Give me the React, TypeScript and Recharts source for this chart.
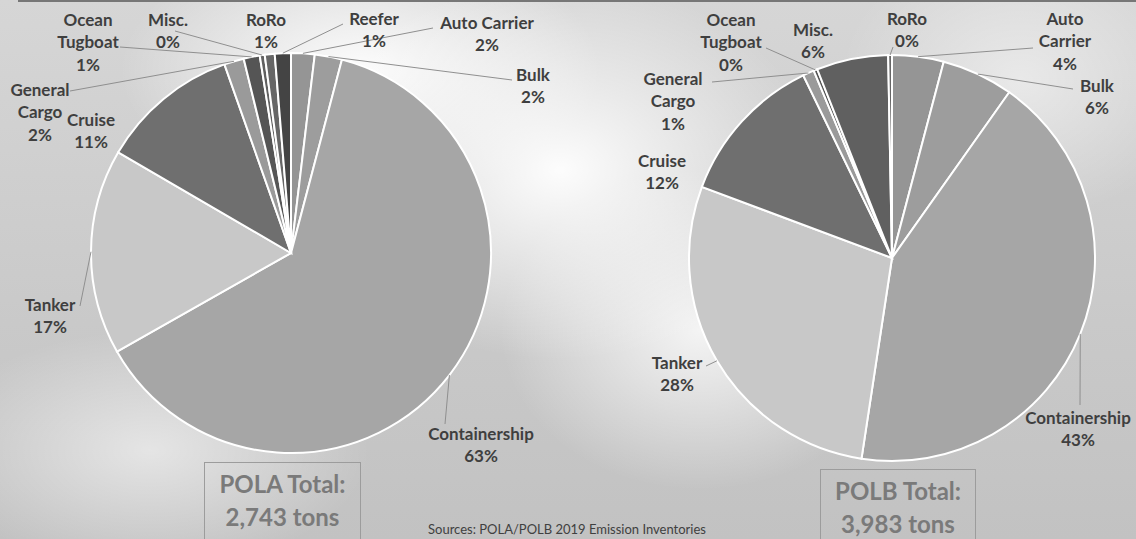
import React from 'react';
import { PieChart, Pie, Cell } from 'recharts';

// shares of total tons per vessel type
const categories = ['Auto Carrier', 'Bulk', 'Containership', 'Tanker', 'Cruise', 'General Cargo', 'Ocean Tugboat', 'Misc.', 'RoRo', 'Reefer'];
const polaShares = [1.9, 2.2, 62.7, 16.6, 11.2, 1.6, 1.3, 0.4, 0.8, 1.3];
const polbShares = [4.1, 5.7, 42.6, 28.3, 12.1, 0.9, 0.3, 5.7, 0.3, 0];
const sliceColors = ['#959595', '#9d9d9d', '#a6a6a6', '#c8c8c8', '#6f6f6f', '#9a9a9a', '#555555', '#606060', '#666666', '#444444'];

const totals = ['POLA Total:', '2,743 tons', 'POLB Total:', '3,983 tons'];
const sourceNote = 'Sources: POLA/POLB 2019 Emission Inventories';

type LabelPos = { x: number; y: number; wrap?: boolean; lx?: number; ly?: number };

// hand-placed data labels (text centre, first line) and leader start points
const polaLabels: Record<string, LabelPos> = {
  'Auto Carrier': { x: 487, y: 22, lx: 433, ly: 28 },
  Bulk: { x: 533, y: 74, lx: 512, ly: 80 },
  Containership: { x: 481, y: 433, lx: 445, ly: 424 },
  Tanker: { x: 50, y: 304, lx: 80, ly: 306 },
  Cruise: { x: 91, y: 119 },
  'General Cargo': { x: 40, y: 89, wrap: true, lx: 70, ly: 91 },
  'Ocean Tugboat': { x: 88, y: 19, wrap: true, lx: 120, ly: 47 },
  'Misc.': { x: 168, y: 19, lx: 175, ly: 31 },
  RoRo: { x: 266, y: 19 },
  Reefer: { x: 374, y: 18, lx: 343, ly: 24 },
};

const polbLabels: Record<string, LabelPos> = {
  'Auto Carrier': { x: 1065, y: 18, wrap: true, lx: 1033, ly: 48 },
  Bulk: { x: 1097, y: 85, lx: 1073, ly: 89 },
  Containership: { x: 1078, y: 417, lx: 1080, ly: 405 },
  Tanker: { x: 677, y: 362, lx: 706, ly: 366 },
  Cruise: { x: 662, y: 160 },
  'General Cargo': { x: 673, y: 78, wrap: true, lx: 712, ly: 82 },
  'Ocean Tugboat': { x: 731, y: 19, wrap: true, lx: 766, ly: 48 },
  'Misc.': { x: 813, y: 29 },
  RoRo: { x: 907, y: 18, lx: 893, ly: 47 },
};

const RADIAN = Math.PI / 180;
const LINE_H = 22.5;

const makeLabel = (positions: Record<string, LabelPos>) => (props: any) => {
  const { cx, cy, midAngle, outerRadius, percent, name, value } = props;
  const pos = positions[name];
  if (!pos || !value) return null;
  const lines = pos.wrap ? name.split(' ') : [name];
  lines.push(`${Math.round(percent * 100)}%`);
  const ex = cx + outerRadius * Math.cos(-midAngle * RADIAN);
  const ey = cy + outerRadius * Math.sin(-midAngle * RADIAN);
  return (
    <g>
      {pos.lx !== undefined && (
        <line x1={pos.lx} y1={pos.ly} x2={ex} y2={ey} stroke="#8f8f8f" strokeWidth={1} />
      )}
      {lines.map((t: string, i: number) => (
        <text
          key={i}
          x={pos.x}
          y={pos.y + i * LINE_H}
          textAnchor="middle"
          dominantBaseline="central"
          fill="#3f3f3f"
          fontSize={17}
          fontWeight={700}
        >
          {t}
        </text>
      ))}
    </g>
  );
};

const polaData = categories.map((name, i) => ({ name, value: polaShares[i] }));
const polbData = categories.map((name, i) => ({ name, value: polbShares[i] }));

const background = [
  'radial-gradient(ellipse 260px 190px at 560px 170px, rgba(255,255,255,0.95), rgba(255,255,255,0))',
  'radial-gradient(ellipse 240px 130px at 360px 70px, rgba(255,255,255,0.95), rgba(255,255,255,0))',
  'radial-gradient(ellipse 200px 160px at 700px 330px, rgba(255,255,255,0.8), rgba(255,255,255,0))',
  'radial-gradient(ellipse 220px 120px at 150px 450px, rgba(255,255,255,0.55), rgba(255,255,255,0))',
  'radial-gradient(ellipse 180px 140px at 1020px 80px, rgba(255,255,255,0.5), rgba(255,255,255,0))',
  'linear-gradient(180deg, #d6d6d6 0%, #c9c9c9 60%, #c2c2c2 100%)',
].join(',');

const boxStyle: React.CSSProperties = {
  position: 'absolute',
  border: '1px solid #9c9c9c',
  height: 90,
  color: '#7a7a7a',
  fontWeight: 700,
  fontSize: 24,
  lineHeight: '33px',
  textAlign: 'center',
  paddingTop: 4,
  boxSizing: 'border-box',
};

export default function App() {
  return (
    <div
      style={{
        position: 'absolute',
        left: 0,
        top: 0,
        width: 1136,
        height: 539,
        overflow: 'hidden',
        background,
        fontFamily: 'Lato, "Open Sans", sans-serif',
      }}
    >
      <div style={{ position: 'absolute', left: 18, top: 0, width: 1118, height: 2, background: '#777' }} />
      <PieChart width={1136} height={539} style={{ position: 'absolute', left: 0, top: 0 }}>
        <Pie
          data={polaData}
          dataKey="value"
          nameKey="name"
          cx={286}
          cy={248}
          outerRadius={200}
          startAngle={90}
          endAngle={-270}
          stroke="#ffffff"
          strokeWidth={2}
          label={makeLabel(polaLabels)}
          labelLine={false}
          isAnimationActive={false}
        >
          {polaData.map((_d, i) => (
            <Cell key={`a-${i}`} fill={sliceColors[i]} />
          ))}
        </Pie>
        <Pie
          data={polbData}
          dataKey="value"
          nameKey="name"
          cx={887}
          cy={253}
          outerRadius={203}
          startAngle={90}
          endAngle={-270}
          stroke="#ffffff"
          strokeWidth={2}
          label={makeLabel(polbLabels)}
          labelLine={false}
          isAnimationActive={false}
        >
          {polbData.map((_d, i) => (
            <Cell key={`b-${i}`} fill={sliceColors[i]} />
          ))}
        </Pie>
      </PieChart>
      <div style={{ ...boxStyle, left: 204, top: 462, width: 157 }}>
        {totals[0]}
        <br />
        {totals[1]}
      </div>
      <div style={{ ...boxStyle, left: 820, top: 469, width: 156 }}>
        {totals[2]}
        <br />
        {totals[3]}
      </div>
      <div style={{ position: 'absolute', left: 428, top: 521, fontSize: 13, lineHeight: '16px', color: '#404040', whiteSpace: 'nowrap' }}>
        {sourceNote}
      </div>
    </div>
  );
}
